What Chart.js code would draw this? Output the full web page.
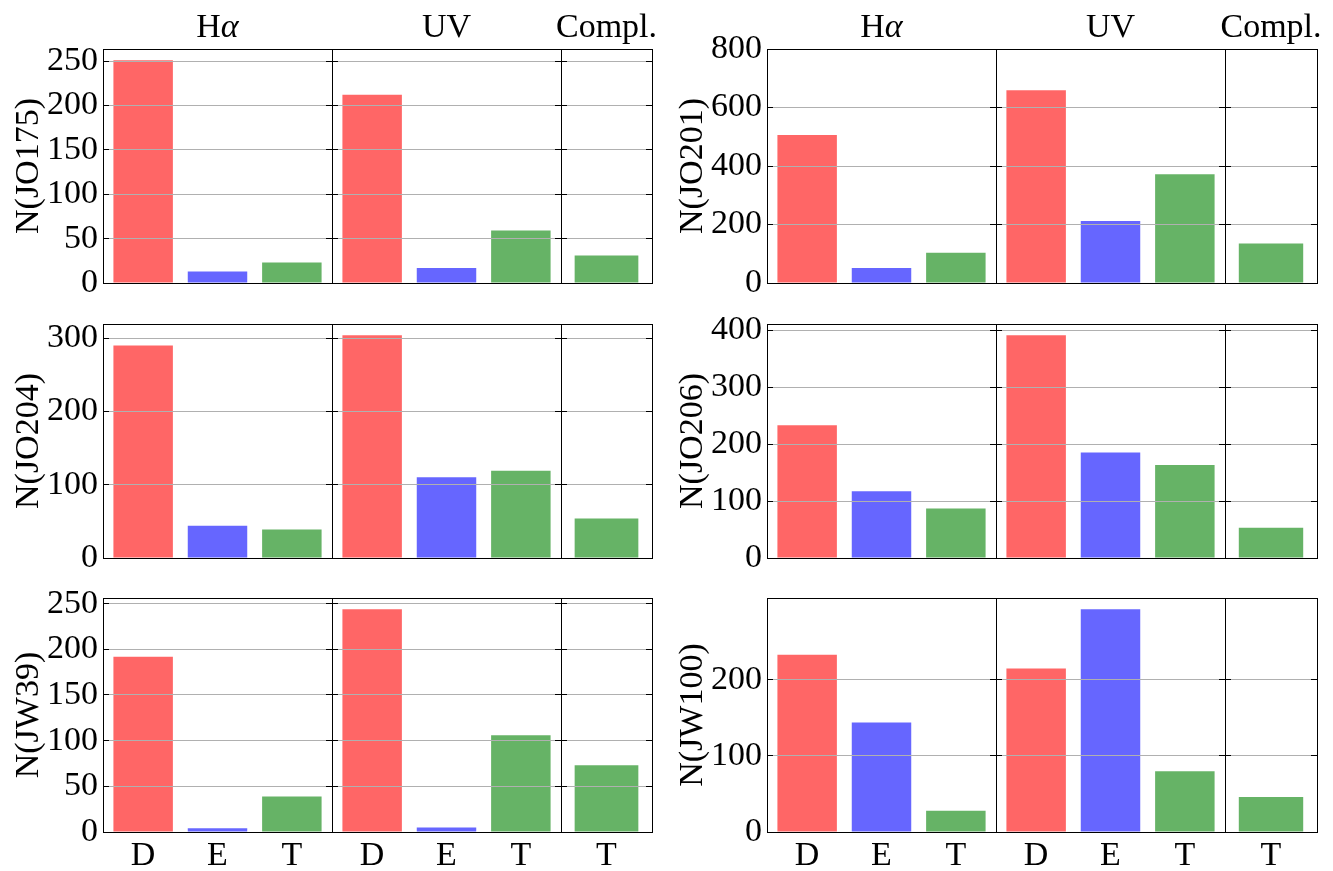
<!DOCTYPE html>
<html>
<head>
<meta charset="utf-8">
<script src="https://cdn.jsdelivr.net/npm/chart.js@4/dist/chart.umd.min.js"></script>
<style>
html,body{margin:0;padding:0;background:#fff;}
#wrap{position:relative;width:1333px;height:871px;overflow:hidden;background:#fff;}
#wrap canvas{position:absolute;}
</style>
</head>
<body>
<div id="wrap"></div>
<script>
// ---------------- data ----------------
const galaxies = ['JO175', 'JO201', 'JO204', 'JO206', 'JW39', 'JW100'];
const groupTitles = ['Hα', 'UV', 'Compl.'];
const haCategories = ['D', 'E', 'T'];
const uvCategories = ['D', 'E', 'T'];
const complCategories = ['T'];
const haCounts = [[251, 13, 23], [506, 51, 103], [290, 44, 39], [233, 117, 87], [192, 4, 39], [233, 144, 28]];
const uvCounts = [[212, 17, 59], [659, 212, 372], [304, 110, 119], [391, 185, 163], [244, 5, 106], [215, 293, 80]];
const complCounts = [[31], [135], [54], [53], [73], [46]];
const yTickValues = [
  [0, 50, 100, 150, 200, 250],
  [0, 200, 400, 600, 800],
  [0, 100, 200, 300],
  [0, 100, 200, 300, 400],
  [0, 50, 100, 150, 200, 250],
  [0, 100, 200]
];
const yLimitOverride = [null, 800, null, null, null, null];

// ---------------- style / layout ----------------
const FONT_FAMILY = "'Liberation Serif','DejaVu Serif',serif";
const FONT = 34;
Chart.defaults.font.family = FONT_FAMILY;
Chart.defaults.color = '#000';
const classColors = {D: 'rgba(255,0,0,0.6)', E: 'rgba(0,0,255,0.6)', T: 'rgba(0,128,0,0.6)'};
const colEdges = [[103, 332, 561, 652], [767, 996, 1225, 1317]];
const rowTops = [49, 324, 598];
const rowH = 234;
const wrap = document.getElementById('wrap');

const groupTitlePlugin = {
  id: 'groupTitle',
  afterDraw(chart, args, opts) {
    if (!opts || !opts.text) return;
    const ctx = chart.ctx, a = chart.chartArea;
    ctx.save();
    ctx.fillStyle = '#000';
    ctx.textBaseline = 'alphabetic';
    ctx.textAlign = 'left';
    const chars = Array.from(opts.text);
    const fontFor = c => (/[\u03b1-\u03c9]/.test(c) ? 'italic ' : '') + opts.size + 'px ' + FONT_FAMILY;
    let total = 0;
    const widths = chars.map(c => { ctx.font = fontFor(c); const w = ctx.measureText(c).width; total += w; return w; });
    let x = (a.left + a.right) / 2 - total / 2;
    chars.forEach((c, k) => { ctx.font = fontFor(c); ctx.fillText(c, x, a.top - opts.gap); x += widths[k]; });
    ctx.restore();
  }
};

// axes frame (spines) drawn around the plot area, above the bars
const framePlugin = {
  id: 'axesFrame',
  afterDatasetsDraw(chart) {
    const ctx = chart.ctx, a = chart.chartArea;
    const l = Math.round(a.left) + 0.5, t = Math.round(a.top) + 0.5;
    const r = Math.round(a.right) + 0.5, b = Math.round(a.bottom) + 0.5;
    ctx.save();
    ctx.strokeStyle = '#000';
    ctx.lineWidth = 1;
    ctx.strokeRect(l, t, r - l, b - t);
    ctx.restore();
  }
};

function makeChart(panel, g) {
  const row = Math.floor(panel / 2), col = panel % 2;
  const ax0 = colEdges[col][g], ax1 = colEdges[col][g + 1];
  const ay0 = rowTops[row];
  const isFirst = g === 0, isBottom = row === 2, isTop = row === 0;
  const yW = isFirst ? 95 : 0;
  const pad = {left: isFirst ? 5 : 10, right: 20, top: isTop ? 50 : 45, bottom: isBottom ? 5 : 45};
  const bH = isBottom ? 60 : 0;
  const W = (ax1 - ax0) + pad.left + yW + pad.right;
  const H = rowH + pad.top + pad.bottom + bH;
  const cv = document.createElement('canvas');
  cv.width = W; cv.height = H;
  cv.style.left = (ax0 - pad.left - yW) + 'px';
  cv.style.top = (ay0 - pad.top) + 'px';
  cv.style.width = W + 'px'; cv.style.height = H + 'px';
  wrap.appendChild(cv);

  const cats = g === 0 ? haCategories : (g === 1 ? uvCategories : complCategories);
  const vals = (g === 0 ? haCounts : (g === 1 ? uvCounts : complCounts))[panel];
  const dataMax = Math.max(...haCounts[panel], ...uvCounts[panel], ...complCounts[panel]);
  const yMax = yLimitOverride[panel] != null ? yLimitOverride[panel] : dataMax * 1.05;
  const tickList = yTickValues[panel];
  const setTicks = s => { s.ticks = tickList.map(v => ({value: v})); };
  const gridColor = c => (c.tick && (c.tick.value <= 0 || c.tick.value >= yMax - 1e-9)) ? 'rgba(0,0,0,0)' : '#b0b0b0';
  const isCat = g === 2;

  const dataset = {
    data: isCat ? vals : vals.map((v, k) => ({x: k, y: v})),
    backgroundColor: cats.map(c => classColors[c]),
    borderWidth: 0,
    barPercentage: 1,
    categoryPercentage: isCat ? 0.70 : 0.8,
    xAxisID: 'x', yAxisID: 'y'
  };

  const xTicks = {display: isBottom, font: {size: FONT}, padding: 4, maxRotation: 0, minRotation: 0, autoSkip: false, color: '#000'};
  const xScale = isCat
    ? {type: 'category', offset: true, ticks: xTicks}
    : {type: 'linear', offset: false, min: -0.54, max: 2.54,
       afterBuildTicks: s => { s.ticks = cats.map((c, k) => ({value: k})); },
       ticks: Object.assign({}, xTicks, {callback: v => (cats[v] !== undefined ? cats[v] : '')})};
  Object.assign(xScale, {
    position: 'bottom',
    grid: {display: false, drawTicks: false},
    border: {display: false},
    afterFit: s => { s.height = bH; }
  });

  new Chart(cv, {
    type: 'bar',
    data: isCat ? {labels: cats, datasets: [dataset]} : {datasets: [dataset]},
    options: {
      responsive: false,
      animation: false,
      devicePixelRatio: 1,
      layout: {padding: pad, autoPadding: false},
      plugins: {
        legend: {display: false},
        tooltip: {enabled: false},
        groupTitle: isTop ? {text: groupTitles[g], size: FONT, gap: 12} : {}
      },
      scales: {
        x: xScale,
        y: {
          type: 'linear', position: 'left', min: 0, max: yMax,
          afterBuildTicks: setTicks,
          grid: {color: gridColor, lineWidth: 1, drawTicks: true, tickLength: -6, tickColor: '#000', tickWidth: 1, z: 1},
          border: {display: false},
          ticks: {display: isFirst, font: {size: FONT}, padding: 11, color: '#000'},
          title: {display: isFirst, text: 'N(' + galaxies[panel] + ')', font: {size: FONT}, padding: {top: 1, bottom: 0}, color: '#000'},
          afterFit: s => { s.width = yW; }
        },
        yRight: {
          type: 'linear', position: 'right', min: 0, max: yMax,
          afterBuildTicks: setTicks,
          grid: {drawOnChartArea: false, drawTicks: true, tickLength: -6, tickColor: '#000', tickWidth: 1, z: 1},
          border: {display: false},
          ticks: {display: false},
          afterFit: s => { s.width = 0; }
        }
      }
    },
    plugins: [framePlugin, groupTitlePlugin]
  });
}

for (let p = 0; p < galaxies.length; p++) {
  for (let g = 0; g < 3; g++) makeChart(p, g);
}
</script>
</body>
</html>
